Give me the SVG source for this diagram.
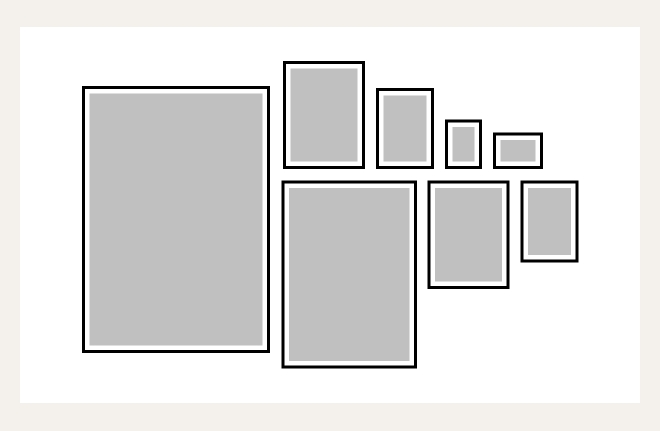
<svg xmlns="http://www.w3.org/2000/svg" width="660" height="431" viewBox="0 0 660 431">
  <style>
    .frame { fill: #ffffff; stroke: #000000; stroke-width: 3; }
    .art { fill: #c0c0c0; }
  </style>
  <rect x="0" y="0" width="660" height="431" fill="#f4f0ec"/>
  <rect x="20" y="27" width="620" height="376" fill="#ffffff"/>
  <g id="frame1">
    <rect class="frame" x="83.5" y="87.5" width="185" height="264"/>
    <rect class="art" x="89.5" y="93.5" width="173" height="252"/>
  </g>
  <g id="frame2">
    <rect class="frame" x="284.5" y="62.5" width="79" height="105"/>
    <rect class="art" x="290.5" y="68.5" width="67" height="93"/>
  </g>
  <g id="frame3">
    <rect class="frame" x="377.5" y="89.5" width="55" height="78"/>
    <rect class="art" x="383.5" y="95.5" width="43" height="66"/>
  </g>
  <g id="frame4">
    <rect class="frame" x="446.5" y="121" width="34" height="46.5"/>
    <rect class="art" x="452.5" y="127" width="22" height="34.5"/>
  </g>
  <g id="frame5">
    <rect class="frame" x="494.5" y="134" width="47" height="33.5"/>
    <rect class="art" x="500.5" y="140" width="35" height="21.5"/>
  </g>
  <g id="frame6">
    <rect class="frame" x="283" y="182" width="132.5" height="185"/>
    <rect class="art" x="289" y="188" width="120.5" height="173"/>
  </g>
  <g id="frame7">
    <rect class="frame" x="429" y="182" width="79" height="105.5"/>
    <rect class="art" x="435" y="188" width="67" height="93.5"/>
  </g>
  <g id="frame8">
    <rect class="frame" x="522" y="182" width="55" height="79"/>
    <rect class="art" x="528" y="188" width="43" height="67"/>
  </g>
</svg>
